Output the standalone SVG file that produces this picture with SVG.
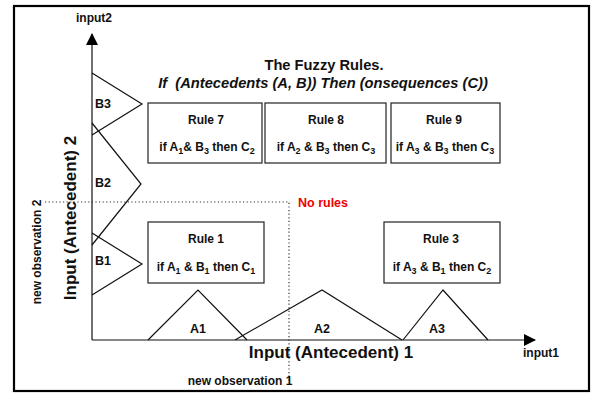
<svg xmlns="http://www.w3.org/2000/svg" width="592" height="393" viewBox="0 0 592 393">
<defs>
<style>
text{font-family:"Liberation Sans",Arial,sans-serif;font-weight:bold;fill:#111}
.ln{fill:none;stroke:#111;stroke-width:1.2}
.box{fill:#fff;stroke:#222;stroke-width:1.2}
.dot{fill:none;stroke:#333;stroke-width:1.2;stroke-dasharray:1.2 2.4}
.r{font-size:12px;text-anchor:middle}
.s{font-size:9px}
.m{font-size:12.5px;text-anchor:middle}
</style>
<marker id="ah" markerWidth="12" markerHeight="12" refX="11" refY="6" orient="auto" markerUnits="userSpaceOnUse">
<path d="M0,0 L12,6 L0,12 Z" fill="#000"/>
</marker>
</defs>
<rect width="592" height="393" fill="#fff"/>
<rect x="14" y="6" width="575" height="385" fill="none" stroke="#000" stroke-width="2.2"/>

<g id="connectors">
<line class="ln" x1="92" y1="340" x2="92" y2="34" marker-end="url(#ah)" stroke-width="1.5"/>
<line class="ln" x1="92" y1="340" x2="535" y2="340" marker-end="url(#ah)" stroke-width="1.5"/>
<polyline class="dot" points="45,202 289,202 289,382"/>
</g>

<g id="axis-labels">
<text x="94" y="22" font-size="12" text-anchor="middle">input2</text>
<text x="541" y="357" font-size="12" text-anchor="middle">input1</text>
<text x="331" y="358" font-size="17" text-anchor="middle">Input (Antecedent) 1</text>
<text transform="translate(76,218) rotate(-90)" font-size="17" text-anchor="middle">Input (Antecedent) 2</text>
<text transform="translate(41,252) rotate(-90)" font-size="12" text-anchor="middle">new observation 2</text>
<text x="240" y="385" font-size="12" text-anchor="middle">new observation 1</text>
<text x="298" y="207" font-size="12.5" style="fill:#ee0000">No rules</text>
</g>

<g id="title">
<text x="324" y="70" font-size="14.7" text-anchor="middle">The Fuzzy Rules.</text>
<text x="323" y="88" font-size="14.7" text-anchor="middle" font-style="italic">If&#160; (Antecedents (A, B)) Then (onsequences (C))</text>
</g>

<g id="B-sets">
<polyline class="ln" points="92,73 142,104 92,135"/>
<polyline class="ln" points="92,123 141,184 92,245"/>
<polyline class="ln" points="92,233 142,264 92,295"/>
<text x="95" y="108" font-size="12.5">B3</text>
<text x="95" y="187" font-size="12.5">B2</text>
<text x="95" y="265" font-size="12.5">B1</text>
</g>

<g id="A-sets">
<polyline class="ln" points="148,340 198,290 247,340"/>
<polyline class="ln" points="235,340 322,290 402,340"/>
<polyline class="ln" points="403,340 443,290 488,340"/>
<text class="m" x="198" y="333">A1</text>
<text class="m" x="322" y="333">A2</text>
<text class="m" x="437" y="333">A3</text>
</g>

<g id="rule7">
<rect class="box" x="148" y="103" width="114" height="60"/>
<text class="r" x="206" y="124">Rule 7</text>
<text class="r" x="207" y="151">if A<tspan class="s" dy="3">1</tspan><tspan dy="-3">&amp; B</tspan><tspan class="s" dy="3">3</tspan><tspan dy="-3"> then C</tspan><tspan class="s" dy="3">2</tspan></text>
</g>
<g id="rule8">
<rect class="box" x="265" y="103" width="121" height="60"/>
<text class="r" x="326" y="124">Rule 8</text>
<text class="r" x="326" y="151">if A<tspan class="s" dy="3">2</tspan><tspan dy="-3"> &amp; B</tspan><tspan class="s" dy="3">3</tspan><tspan dy="-3"> then C</tspan><tspan class="s" dy="3">3</tspan></text>
</g>
<g id="rule9">
<rect class="box" x="391" y="103" width="109" height="60"/>
<text class="r" x="444" y="124">Rule 9</text>
<text class="r" x="445" y="151">if A<tspan class="s" dy="3">3</tspan><tspan dy="-3"> &amp; B</tspan><tspan class="s" dy="3">3</tspan><tspan dy="-3"> then C</tspan><tspan class="s" dy="3">3</tspan></text>
</g>
<g id="rule1">
<rect class="box" x="148" y="222" width="116" height="61"/>
<text class="r" x="206" y="243">Rule 1</text>
<text class="r" x="206" y="271">if A<tspan class="s" dy="3">1</tspan><tspan dy="-3"> &amp; B</tspan><tspan class="s" dy="3">1</tspan><tspan dy="-3"> then C</tspan><tspan class="s" dy="3">1</tspan></text>
</g>
<g id="rule3">
<rect class="box" x="384" y="222" width="116" height="61"/>
<text class="r" x="441" y="243">Rule 3</text>
<text class="r" x="442" y="271">if A<tspan class="s" dy="3">3</tspan><tspan dy="-3"> &amp; B</tspan><tspan class="s" dy="3">1</tspan><tspan dy="-3"> then C</tspan><tspan class="s" dy="3">2</tspan></text>
</g>
</svg>
